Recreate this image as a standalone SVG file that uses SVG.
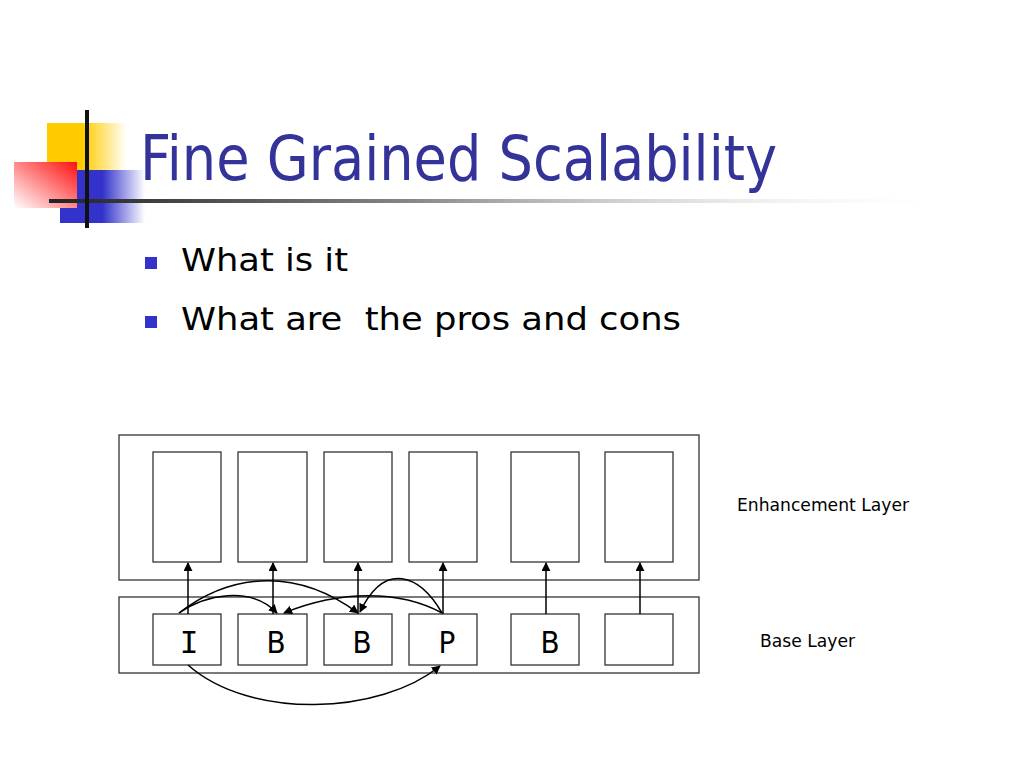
<svg xmlns="http://www.w3.org/2000/svg" width="1024" height="768" viewBox="0 0 1024 768">
<defs>
<linearGradient id="gy" x1="0" y1="0" x2="1" y2="0">
<stop offset="0" stop-color="#ffcc00"/><stop offset="0.45" stop-color="#ffcc00"/><stop offset="1" stop-color="#ffcc00" stop-opacity="0"/>
</linearGradient>
<linearGradient id="gb" x1="0" y1="0" x2="1" y2="0">
<stop offset="0" stop-color="#3333cc"/><stop offset="0.5" stop-color="#3333cc"/><stop offset="1" stop-color="#3333cc" stop-opacity="0"/>
</linearGradient>
<linearGradient id="gr" x1="1" y1="0" x2="0" y2="1">
<stop offset="0" stop-color="#ff1010"/><stop offset="1" stop-color="#ffffff"/>
</linearGradient>
<linearGradient id="gl" x1="0" y1="0" x2="1" y2="0">
<stop offset="0" stop-color="#222"/><stop offset="0.4" stop-color="#888"/><stop offset="1" stop-color="#fff" stop-opacity="0"/>
</linearGradient>
<marker id="ah" viewBox="0 0 10 10" refX="9" refY="5" markerWidth="9" markerHeight="9" markerUnits="userSpaceOnUse" orient="auto">
<path d="M0,0 L10,5 L0,10 z" fill="#000"/>
</marker>
<style>
.box{fill:#fff;stroke:#333;stroke-width:1.3}
.lay{fill:none;stroke:#333;stroke-width:1.3}
.cn{fill:none;stroke:#000;stroke-width:1.5;marker-end:url(#ah)}
.lt{font-family:"DejaVu Sans Condensed","DejaVu Sans",sans-serif;fill:#000}
.big{font-size:31px;text-anchor:middle}
</style>
</defs>
<rect width="1024" height="768" fill="#fff"/>
<g id="logo">
<rect x="47" y="123" width="80" height="47" fill="url(#gy)"/>
<rect x="60" y="170" width="85" height="53" fill="url(#gb)"/>
<rect x="14" y="162" width="63" height="46" fill="url(#gr)"/>
<rect x="49" y="199" width="915" height="4" fill="url(#gl)"/>
<rect x="85" y="110" width="4" height="118" fill="#111"/>
</g>
<text id="title" x="140" y="180" font-family="'DejaVu Sans Condensed','DejaVu Sans',sans-serif" font-size="62" fill="#333399" textLength="637" lengthAdjust="spacingAndGlyphs">Fine Grained Scalability</text>
<g id="bullets">
<rect x="145" y="257" width="12" height="12" fill="#3333cc"/>
<rect x="145" y="316" width="12" height="12" fill="#3333cc"/>
<text class="lt" x="181" y="271" font-size="32" textLength="167" lengthAdjust="spacingAndGlyphs">What is it</text>
<text class="lt" x="181" y="330" font-size="32" textLength="500" lengthAdjust="spacingAndGlyphs" xml:space="preserve">What are  the pros and cons</text>
</g>
<g id="layers">
<rect class="lay" x="119" y="435" width="580" height="145"/>
<rect class="lay" x="119" y="597" width="580" height="76"/>
</g>
<g id="enh">
<rect class="box" x="153" y="452" width="68" height="110"/>
<rect class="box" x="238" y="452" width="69" height="110"/>
<rect class="box" x="324" y="452" width="68" height="110"/>
<rect class="box" x="409" y="452" width="68" height="110"/>
<rect class="box" x="511" y="452" width="68" height="110"/>
<rect class="box" x="605" y="452" width="68" height="110"/>
</g>
<g id="n1"><rect class="box" x="153" y="614" width="68" height="51"/><text class="big" x="189" y="653" font-family="'DejaVu Sans Mono',monospace" fill="#000">I</text></g>
<g id="n2"><rect class="box" x="238" y="614" width="69" height="51"/><text class="lt big" x="276" y="653">B</text></g>
<g id="n3"><rect class="box" x="324" y="614" width="68" height="51"/><text class="lt big" x="362" y="653">B</text></g>
<g id="n4"><rect class="box" x="409" y="614" width="68" height="51"/><text class="lt big" x="447" y="653">P</text></g>
<g id="n5"><rect class="box" x="511" y="614" width="68" height="51"/><text class="lt big" x="550" y="653">B</text></g>
<g id="n6"><rect class="box" x="605" y="614" width="68" height="51"/></g>
<g id="connectors">
<path class="cn" d="M188,614 V563"/>
<path class="cn" d="M273,614 V563"/>
<path class="cn" d="M358,614 V563"/>
<path class="cn" d="M443,614 V563"/>
<path class="cn" d="M546,614 V563"/>
<path class="cn" d="M640,614 V563"/>
<path class="cn" d="M179,613 C205,595 250,585 277,613"/>
<path class="cn" d="M179,613 C235,570 300,570 358,613"/>
<path class="cn" d="M442,613 C400,590 340,590 284,613"/>
<path class="cn" d="M442,613 C420,575 385,560 360,612"/>
<path class="cn" d="M188,665 C250,720 380,715 440,666"/>
</g>
<text class="lt" x="737" y="511" font-size="18" textLength="172" lengthAdjust="spacingAndGlyphs">Enhancement Layer</text>
<text class="lt" x="760" y="647" font-size="18" textLength="95" lengthAdjust="spacingAndGlyphs">Base Layer</text>
</svg>
